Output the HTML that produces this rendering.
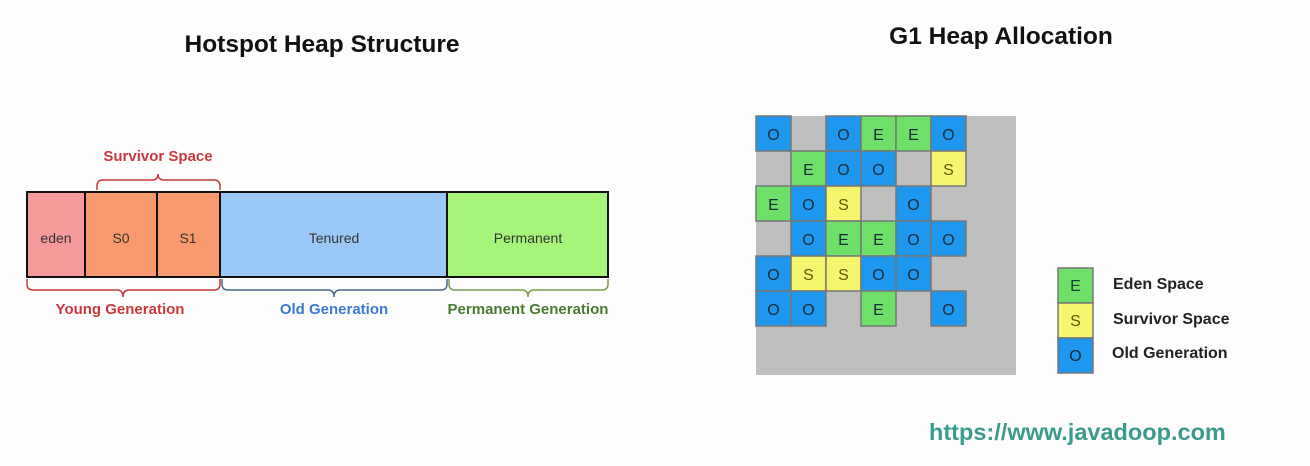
<!DOCTYPE html>
<html><head><style>body{margin:0;background:#fff}svg{display:block}
.O{fill:#1e98ee}.E{fill:#6ee06a}.S{fill:#f5f56e}
</style></head><body>
<svg width="1310" height="466" xmlns="http://www.w3.org/2000/svg" font-family="Liberation Sans, sans-serif">
<rect width="1310" height="466" fill="#fdfdfd"/>
<text x="322" y="52" font-size="24.5" font-weight="bold" text-anchor="middle" fill="#111">Hotspot Heap Structure</text>
<text x="1001" y="44" font-size="24.5" font-weight="bold" text-anchor="middle" fill="#111">G1 Heap Allocation</text>
<g stroke="#111" stroke-width="2">
<rect x="27" y="192" width="58" height="85" fill="#f79a9c"/>
<rect x="85" y="192" width="72" height="85" fill="#f99a6e"/>
<rect x="157" y="192" width="63" height="85" fill="#f99a6e"/>
<rect x="220" y="192" width="227" height="85" fill="#9cc8f7"/>
<rect x="447" y="192" width="161" height="85" fill="#a6f57a"/>
</g>
<g font-size="14" fill="#333" text-anchor="middle">
<text x="56" y="243">eden</text><text x="121" y="243">S0</text><text x="188" y="243">S1</text>
<text x="334" y="243">Tenured</text><text x="528" y="243">Permanent</text>
</g>
<g fill="none" stroke-width="1.5">
<path d="M97 190 V186 Q97 180 103 180 H152 Q158 180 158 174 Q158 180 164 180 H214 Q220 180 220 186 V190" stroke="#c0393b"/>
<path d="M27 279 V284 Q27 290 33 290 H117 Q123 290 123 297 Q123 290 129 290 H214 Q220 290 220 284 V279" stroke="#c0393b"/>
<path d="M222 279 V284 Q222 290 228 290 H328 Q334 290 334 297 Q334 290 340 290 H441 Q447 290 447 284 V279" stroke="#4a6a88"/>
<path d="M449 279 V284 Q449 290 455 290 H522 Q528 290 528 297 Q528 290 534 290 H602 Q608 290 608 284 V279" stroke="#7a9a50"/>
</g>
<g font-size="15" font-weight="bold" text-anchor="middle">
<text x="158" y="161" fill="#c9393b">Survivor Space</text>
<text x="120" y="314" fill="#c9393b">Young Generation</text>
<text x="334" y="314" fill="#3a7ad0">Old Generation</text>
<text x="528" y="314" fill="#4a7a30">Permanent Generation</text>
</g>
<rect x="756" y="116" width="260" height="259" fill="#c0bfc0"/>
<g stroke="#777" stroke-width="1.5">
<rect class="O" x="756" y="116" width="35" height="35"/><rect class="O" x="826" y="116" width="35" height="35"/><rect class="E" x="861" y="116" width="35" height="35"/><rect class="E" x="896" y="116" width="35" height="35"/><rect class="O" x="931" y="116" width="35" height="35"/>
<rect class="E" x="791" y="151" width="35" height="35"/><rect class="O" x="826" y="151" width="35" height="35"/><rect class="O" x="861" y="151" width="35" height="35"/><rect class="S" x="931" y="151" width="35" height="35"/>
<rect class="E" x="756" y="186" width="35" height="35"/><rect class="O" x="791" y="186" width="35" height="35"/><rect class="S" x="826" y="186" width="35" height="35"/><rect class="O" x="896" y="186" width="35" height="35"/>
<rect class="O" x="791" y="221" width="35" height="35"/><rect class="E" x="826" y="221" width="35" height="35"/><rect class="E" x="861" y="221" width="35" height="35"/><rect class="O" x="896" y="221" width="35" height="35"/><rect class="O" x="931" y="221" width="35" height="35"/>
<rect class="O" x="756" y="256" width="35" height="35"/><rect class="S" x="791" y="256" width="35" height="35"/><rect class="S" x="826" y="256" width="35" height="35"/><rect class="O" x="861" y="256" width="35" height="35"/><rect class="O" x="896" y="256" width="35" height="35"/>
<rect class="O" x="756" y="291" width="35" height="35"/><rect class="O" x="791" y="291" width="35" height="35"/><rect class="E" x="861" y="291" width="35" height="35"/><rect class="O" x="931" y="291" width="35" height="35"/>
</g>
<g font-size="16" text-anchor="middle" fill="#1a2a3a">
<text x="773.5" y="140">O</text><text x="843.5" y="140">O</text><text x="878.5" y="140">E</text><text x="913.5" y="140">E</text><text x="948.5" y="140">O</text>
<text x="808.5" y="175">E</text><text x="843.5" y="175">O</text><text x="878.5" y="175">O</text><text x="948.5" y="175" fill="#665500">S</text>
<text x="773.5" y="210">E</text><text x="808.5" y="210">O</text><text x="843.5" y="210" fill="#665500">S</text><text x="913.5" y="210">O</text>
<text x="808.5" y="245">O</text><text x="843.5" y="245">E</text><text x="878.5" y="245">E</text><text x="913.5" y="245">O</text><text x="948.5" y="245">O</text>
<text x="773.5" y="280">O</text><text x="808.5" y="280" fill="#665500">S</text><text x="843.5" y="280" fill="#665500">S</text><text x="878.5" y="280">O</text><text x="913.5" y="280">O</text>
<text x="773.5" y="315">O</text><text x="808.5" y="315">O</text><text x="878.5" y="315">E</text><text x="948.5" y="315">O</text>
</g>
<g stroke="#777" stroke-width="1.5">
<rect x="1058" y="268" width="35" height="35" fill="#6ee06a"/>
<rect x="1058" y="303" width="35" height="35" fill="#f5f56e"/>
<rect x="1058" y="338" width="35" height="35" fill="#1e98ee"/>
</g>
<g font-size="16" text-anchor="middle">
<text x="1075.5" y="291" fill="#143">E</text>
<text x="1075.5" y="326" fill="#665500">S</text>
<text x="1075.5" y="361" fill="#123">O</text>
</g>
<g font-size="16" font-weight="bold" fill="#222">
<text x="1113" y="289">Eden Space</text>
<text x="1113" y="324">Survivor Space</text>
<text x="1112" y="358">Old Generation</text>
</g>
<text x="929" y="440" font-size="23.5" font-weight="bold" fill="#3a9a8c">https://www.javadoop.com</text>
</svg>
</body></html>
